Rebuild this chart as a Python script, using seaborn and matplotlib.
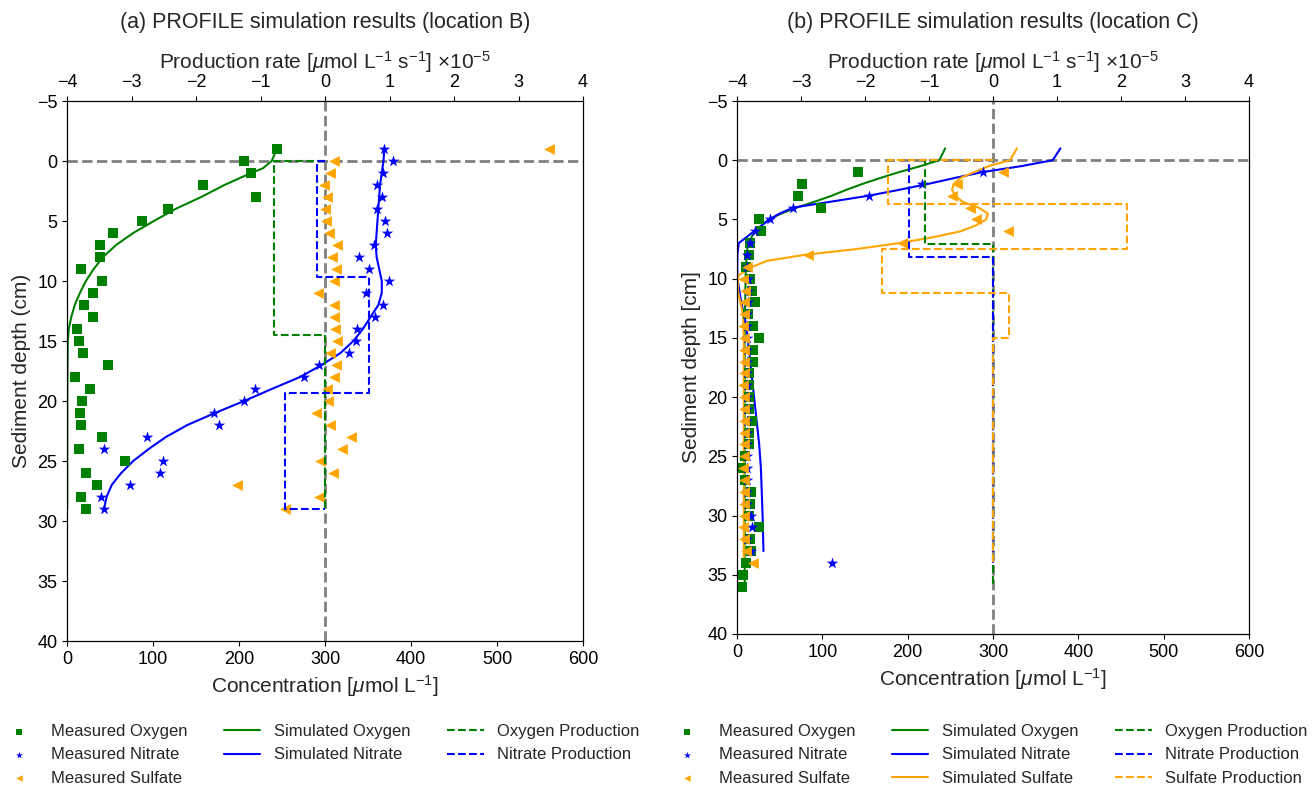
import numpy as np
import pandas as pd
import seaborn as sns
import matplotlib
matplotlib.use("Agg")
import matplotlib.pyplot as plt

# ---------------- location B ----------------
b_o2_depth = [-1, 0, 1, 2, 3, 4, 5, 6, 7, 8, 9, 10, 11, 12, 13, 14, 15, 16, 17, 18, 19, 20,
              21, 22, 23, 24, 25, 26, 27, 28, 29]
b_o2_meas = [244, 206, 214, 158, 220, 117, 87, 54, 38, 38, 16, 41, 30, 20, 30, 12, 14, 19, 48,
             9, 27, 18, 15, 16, 41, 14, 67, 22, 35, 16, 22]
b_no3_depth = [-1, 0, 1, 2, 3, 4, 5, 6, 7, 8, 9, 10, 11, 12, 13, 14, 15, 16, 17, 18, 19, 20,
               21, 22, 23, 24, 25, 26, 27, 28, 29]
b_no3_meas = [369, 379, 367, 360, 366, 360, 370, 372, 357, 340, 351, 374, 348, 367, 358, 337,
              336, 328, 293, 276, 219, 206, 171, 177, 93, 43, 112, 108, 73, 40, 43]
b_so4_depth = [-1, 0, 1, 2, 3, 4, 5, 6, 7, 8, 9, 10, 11, 12, 13, 14, 15, 16, 17, 18, 19, 20,
               21, 22, 23, 24, 25, 26, 27, 28, 29]
b_so4_meas = [560, 310, 306, 299, 302, 300, 301, 305, 314, 308, 313, 310, 292, 310, 310, 312,
              314, 306, 313, 310, 302, 303, 290, 306, 330, 320, 294, 309, 198, 293, 254]

b_o2_sim_depth = [-1, 0, 0.6, 1, 2, 3, 4, 5, 6, 7, 8, 9, 10, 11, 12, 13, 14, 15, 17, 20, 25, 29]
b_o2_sim = [244, 238, 228, 214, 183, 156, 126, 101, 77, 57, 42, 31, 22, 15, 9, 5, 2, 1, 0.6,
            0.4, 0.3, 0.3]
b_no3_sim_depth = [-1, 0, 1, 2, 3, 4, 5, 6, 7, 8, 9, 10, 11, 12, 13, 14, 15, 16, 17, 18, 19,
                   20, 21, 22, 23, 24, 25, 26, 27, 28, 29]
b_no3_sim = [369, 368, 366, 364, 363, 362, 361, 360, 359, 360, 363, 366, 366, 362, 353, 344,
             333, 318, 296, 271, 238, 206, 172, 140, 115, 95, 77, 63, 52, 46, 43]

b_o2_prod_edges = [0, 14.5, 29]
b_o2_prod = [-0.79, 0.0]
b_no3_prod_edges = [0, 9.7, 19.3, 29]
b_no3_prod = [-0.12, 0.68, -0.62]

# ---------------- location C ----------------
c_o2_depth = list(range(1, 37))
c_o2_meas = [142, 76, 72, 99, 26, 28, 15, 14, 10, 15, 17, 21, 13, 19, 26, 19, 19, 14, 14, 14,
             14, 17, 14, 14, 9, 5, 9, 16, 15, 14, 26, 15, 16, 10, 7, 6]
c_no3_depth = list(range(1, 35))
c_no3_meas = [288, 217, 155, 66, 39, 21, 15, 12, 12, 13, 13, 13, 12, 12, 12, 12, 12, 12, 12,
              12, 12, 12, 12, 12, 12, 12, 12, 12, 12, 16, 18, 12, 16, 111]
c_so4_depth = list(range(1, 35))
c_so4_meas = [312, 258, 252, 273, 280, 317, 193, 83, 12, 7, 9, 8, 8, 7, 8, 8, 8, 8, 7, 8, 8, 8,
              8, 8, 8, 7, 8, 8, 8, 8, 7, 8, 10, 19]

c_o2_sim_depth = [-1, 0, 0.5, 1, 1.5, 2, 2.5, 3, 3.5, 4, 4.5, 5, 6, 7, 8, 10, 15, 20, 25, 30, 36]
c_o2_sim = [244, 237, 215, 190, 168, 147, 128, 111, 91, 70, 52, 37, 21, 13, 11, 10, 9, 9, 9,
            9, 9]
c_no3_sim_depth = [-1, 0, 0.5, 1, 1.5, 2, 2.5, 3, 3.5, 4, 4.5, 5, 6, 7, 8, 9, 10, 12, 14, 16,
                   18, 20, 22, 24, 26, 28, 30, 33]
c_no3_sim = [379, 370, 333, 288, 255, 224, 190, 154, 110, 66, 50, 38, 20, 2, 0.5, 0.3, 0.5, 5,
             11, 14, 17, 20, 23, 26, 28, 29, 30, 31]
c_so4_sim_depth = [-1, 0, 0.5, 1, 1.5, 2, 2.5, 3, 3.5, 4, 4.5, 5, 5.5, 6, 6.5, 7, 7.5, 8, 8.5,
                   9, 9.7, 10, 11, 12, 13, 15, 20, 25, 30, 34]
c_so4_sim = [328, 320, 295, 278, 262, 254, 252, 256, 264, 283, 294, 292, 280, 262, 230, 190,
             140, 78, 35, 18, 2, 1, 1, 4, 7, 8, 8, 8, 8, 8]

c_o2_prod_edges = [0, 7.1, 36]
c_o2_prod = [-1.06, 0.0]
c_no3_prod_edges = [0, 8.2, 34]
c_no3_prod = [-1.31, 0.0]
c_so4_prod_edges = [0, 3.7, 7.5, 11.2, 15.0, 34]
c_so4_prod = [-1.64, 2.09, -1.73, 0.25, 0.0]

GREEN, BLUE, ORANGE = "green", "blue", "orange"


def step_profile(edges, rates):
    # zone-wise constant production -> outline of the step profile
    edges = np.asarray(edges, float)
    rates = np.asarray(rates, float)
    x = np.concatenate([[0], np.repeat(rates, 2), [0]])
    y = np.concatenate([[edges[0]], np.repeat(edges, 2)[1:-1], [edges[-1]]])
    return pd.DataFrame({"rate": x, "depth": y})


def panel(ax, title, ylabel, meas, sims, prods, legend_x):
    ax.axhline(0, color="gray", ls="--", lw=2, zorder=1)
    ax.axvline(300, color="gray", ls="--", lw=2, zorder=1)
    for depth, vals, color, label in sims:
        sns.lineplot(x=vals, y=depth, sort=False, estimator=None, color=color, lw=1.5,
                     label=label, legend=False, ax=ax, zorder=2)
    for depth, vals, color, marker, size, label in meas:
        sns.scatterplot(x=vals, y=depth, color=color, marker=marker, s=size, linewidth=0,
                        label=label, legend=False, ax=ax, zorder=3)
    ax.set_xlim(0, 600)
    ax.set_ylim(40, -5)
    ax.set_xlabel(r"Concentration [$\mu$mol L$^{-1}$]", fontsize=15)
    ax.set_ylabel(ylabel, fontsize=15)
    ax.tick_params(labelsize=13)

    ax2 = ax.twiny()
    for edges, rates, color, label in prods:
        df = step_profile(edges, rates)
        sns.lineplot(data=df, x="rate", y="depth", sort=False, estimator=None, color=color,
                     lw=1.5, ls="--", label=label, legend=False, ax=ax2)
    ax2.set_xlim(-4, 4)
    ax2.set_ylim(40, -5)
    ax2.set_xlabel(r"Production rate [$\mu$mol L$^{-1}$ s$^{-1}$] $\times10^{-5}$", fontsize=15)
    ax2.tick_params(labelsize=13)
    ax2.set_title(title, fontsize=15.5, pad=15)

    h1, l1 = ax.get_legend_handles_labels()
    h2, l2 = ax2.get_legend_handles_labels()
    order = ["Measured Oxygen", "Measured Nitrate", "Measured Sulfate",
             "Simulated Oxygen", "Simulated Nitrate", "Simulated Sulfate",
             "Oxygen Production", "Nitrate Production", "Sulfate Production"]
    lookup = dict(zip(l1 + l2, h1 + h2))
    labels = [k for k in order if k in lookup]
    ax2.legend([lookup[k] for k in labels], labels, loc="upper center",
               bbox_to_anchor=(legend_x, 0.099), bbox_transform=ax.figure.transFigure,
               ncol=3, frameon=False, fontsize=12, markerscale=0.6, columnspacing=2.2,
               handlelength=2.2)


sns.set_style("ticks")
plt.rcParams["font.family"] = ["Liberation Sans", "DejaVu Sans"]
plt.rcParams["mathtext.fontset"] = "custom"
plt.rcParams["mathtext.rm"] = "Liberation Sans"
plt.rcParams["mathtext.it"] = "Liberation Sans:italic"
plt.rcParams["axes.edgecolor"] = "black"
plt.rcParams["xtick.color"] = "black"
plt.rcParams["ytick.color"] = "black"

fig = plt.figure(figsize=(13.12, 7.87), dpi=100)
axA = fig.add_axes([67 / 1312, 1 - 641 / 787, 516 / 1312, 540 / 787])
axC = fig.add_axes([737 / 1312, 1 - 634 / 787, 512 / 1312, 533 / 787])

panel(axA, "(a) PROFILE simulation results (location B)", "Sediment depth (cm)",
      [(b_o2_depth, b_o2_meas, GREEN, "s", 55, "Measured Oxygen"),
       (b_no3_depth, b_no3_meas, BLUE, "*", 75, "Measured Nitrate"),
       (b_so4_depth, b_so4_meas, ORANGE, "<", 60, "Measured Sulfate")],
      [(b_o2_sim_depth, b_o2_sim, GREEN, "Simulated Oxygen"),
       (b_no3_sim_depth, b_no3_sim, BLUE, "Simulated Nitrate")],
      [(b_o2_prod_edges, b_o2_prod, GREEN, "Oxygen Production"),
       (b_no3_prod_edges, b_no3_prod, BLUE, "Nitrate Production")],
      320 / 1312)

panel(axC, "(b) PROFILE simulation results (location C)", "Sediment depth [cm]",
      [(c_o2_depth, c_o2_meas, GREEN, "s", 55, "Measured Oxygen"),
       (c_no3_depth, c_no3_meas, BLUE, "*", 75, "Measured Nitrate"),
       (c_so4_depth, c_so4_meas, ORANGE, "<", 60, "Measured Sulfate")],
      [(c_o2_sim_depth, c_o2_sim, GREEN, "Simulated Oxygen"),
       (c_no3_sim_depth, c_no3_sim, BLUE, "Simulated Nitrate"),
       (c_so4_sim_depth, c_so4_sim, ORANGE, "Simulated Sulfate")],
      [(c_o2_prod_edges, c_o2_prod, GREEN, "Oxygen Production"),
       (c_no3_prod_edges, c_no3_prod, BLUE, "Nitrate Production"),
       (c_so4_prod_edges, c_so4_prod, ORANGE, "Sulfate Production")],
      988 / 1312)

fig.savefig("out.png", dpi=100)
